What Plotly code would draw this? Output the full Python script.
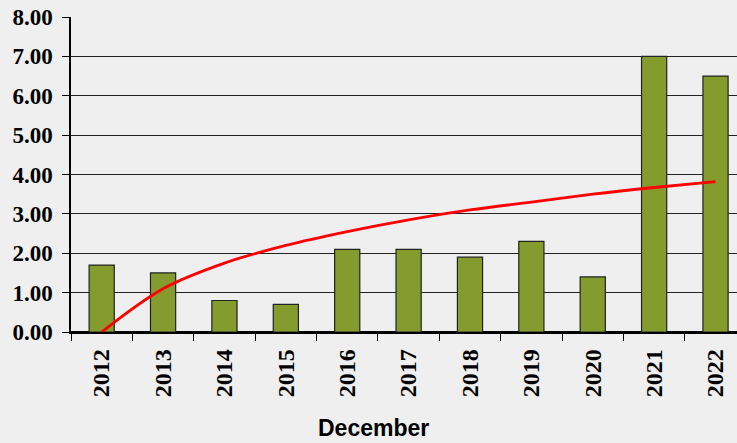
import plotly.graph_objects as go

years = ["2012", "2013", "2014", "2015", "2016", "2017", "2018", "2019", "2020", "2021", "2022"]
values = [1.7, 1.5, 0.8, 0.7, 2.1, 2.1, 1.9, 2.3, 1.4, 7.0, 6.5]
trend = [0.0, 1.1, 1.75, 2.2, 2.55, 2.85, 3.1, 3.3, 3.5, 3.67, 3.82]
y_ticks = [0, 1, 2, 3, 4, 5, 6, 7, 8]
x_title = "December"

fig = go.Figure()
fig.add_trace(go.Bar(
    x=years, y=values, width=0.41,
    marker=dict(color="#859b2d", line=dict(color="#222222", width=1.2)),
    showlegend=False,
))
fig.add_trace(go.Scatter(
    x=years, y=trend, mode="lines",
    line=dict(color="#ff0000", width=2.8, shape="spline"),
    showlegend=False,
))

fig.update_layout(
    width=737, height=443,
    margin=dict(l=71, r=0, t=17, b=111),
    paper_bgcolor="#efefef", plot_bgcolor="#efefef",
    xaxis=dict(
        type="category", range=[-0.5, 10.35],
        showline=True, linecolor="black", linewidth=1.5,
        ticks="outside", tickson="boundaries", ticklen=7, tickcolor="black", tickwidth=1,
        tickangle=-90,
        tickfont=dict(family="Liberation Serif", size=24, color="black", weight="bold"),
        ticklabelstandoff=6,
        showgrid=False,
    ),
    yaxis=dict(
        range=[0, 8], tickvals=y_ticks, tickformat=".2f",
        showline=True, linecolor="black", linewidth=1.5,
        ticks="outside", ticklen=7, tickcolor="black", tickwidth=1,
        showgrid=True, gridcolor="#222222", gridwidth=1.2,
        zeroline=True, zerolinecolor="black", zerolinewidth=1.5,
        tickfont=dict(family="Liberation Serif", size=23, color="black", weight="bold"),
        ticklabelstandoff=5,
    ),
    annotations=[dict(
        text=x_title, xref="paper", yref="paper", x=0.4535, y=-0.305,
        xanchor="center", yanchor="middle", showarrow=False,
        font=dict(family="Liberation Sans", size=23, color="black", weight="bold"),
    )],
)

fig.write_html("out.html", config={"displayModeBar": False},
               post_script="document.body.style.margin='0';document.body.style.overflow='hidden';")
